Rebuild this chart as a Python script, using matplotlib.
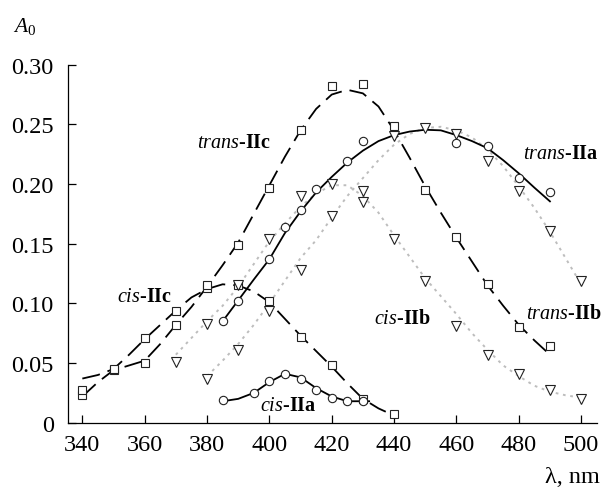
import matplotlib
matplotlib.use("Agg")
import matplotlib.pyplot as plt

# measured points (wavelength, nm / absorbance)
trans_IIa_x = [385, 390, 400, 405, 410, 415, 425, 430, 460, 470, 480, 490]
trans_IIa_y = [0.085, 0.102, 0.137, 0.164, 0.178, 0.196, 0.219, 0.236, 0.234, 0.232, 0.205, 0.193]

cis_IIa_x = [385, 395, 400, 405, 410, 415, 420, 425, 430]
cis_IIa_y = [0.019, 0.025, 0.035, 0.041, 0.037, 0.027, 0.021, 0.018, 0.018]

trans_IIb_x = [380, 390, 400, 410, 420, 430, 440, 450, 460, 470, 480, 490, 500]
trans_IIb_y = [0.037, 0.061, 0.094, 0.128, 0.173, 0.185, 0.240, 0.247, 0.242, 0.219, 0.194, 0.161, 0.119]

cis_IIb_x = [370, 380, 390, 400, 410, 420, 430, 440, 450, 460, 470, 480, 490, 500]
cis_IIb_y = [0.051, 0.083, 0.115, 0.154, 0.190, 0.200, 0.194, 0.154, 0.119, 0.081, 0.057, 0.041, 0.027, 0.020]

trans_IIc_x = [340, 350, 360, 370, 380, 390, 400, 410, 420, 430, 440, 450, 460, 470, 480, 490]
trans_IIc_y = [0.023, 0.044, 0.050, 0.082, 0.113, 0.149, 0.197, 0.245, 0.282, 0.284, 0.249, 0.195, 0.156, 0.116, 0.080, 0.064]

cis_IIc_x = [340, 350, 360, 370, 380, 390, 400, 410, 420, 430, 440]
cis_IIc_y = [0.027, 0.045, 0.071, 0.094, 0.115, 0.115, 0.102, 0.072, 0.048, 0.020, 0.007]

# fitted curves
fit_IIa_trans_x = list(range(385, 491, 5))
fit_IIa_trans_y = [0.085, 0.1025, 0.120, 0.137, 0.159, 0.177, 0.193, 0.206, 0.218, 0.228, 0.236,
                   0.241, 0.244, 0.2455, 0.245, 0.241, 0.236, 0.230, 0.220, 0.209, 0.197, 0.1855]

fit_IIa_cis_x = [385, 390, 395, 400, 405, 410, 415, 420, 425, 430, 432]
fit_IIa_cis_y = [0.018, 0.020, 0.025, 0.034, 0.041, 0.038, 0.029, 0.022, 0.018, 0.018, 0.018]

fit_IIb_trans_x = list(range(380, 501, 5))
fit_IIb_trans_y = [0.039, 0.052, 0.066, 0.082, 0.100, 0.119, 0.138, 0.153, 0.172, 0.190, 0.205, 0.220,
                   0.233, 0.242, 0.247, 0.248, 0.245, 0.239, 0.229, 0.215, 0.198, 0.180, 0.160, 0.138, 0.116]

fit_IIb_cis_x = list(range(370, 501, 5))
fit_IIb_cis_y = [0.057, 0.071, 0.085, 0.098, 0.114, 0.133, 0.152, 0.167, 0.181, 0.192, 0.199, 0.199,
                 0.190, 0.176, 0.157, 0.139, 0.121, 0.106, 0.091, 0.075, 0.061, 0.048, 0.039, 0.031,
                 0.026, 0.023, 0.021]

fit_IIc_trans_x = list(range(340, 491, 5))
fit_IIc_trans_y = [0.022, 0.034, 0.044, 0.048, 0.052, 0.066, 0.082, 0.097, 0.114, 0.132, 0.151, 0.175,
                   0.199, 0.223, 0.245, 0.263, 0.275, 0.279, 0.276, 0.265, 0.245, 0.222, 0.198, 0.176,
                   0.155, 0.135, 0.115, 0.098, 0.082, 0.069, 0.057]

fit_IIc_cis_x = list(range(340, 441, 5))
fit_IIc_cis_y = [0.037, 0.040, 0.045, 0.057, 0.070, 0.082, 0.094, 0.105, 0.112, 0.116, 0.115, 0.110,
                 0.101, 0.087, 0.073, 0.060, 0.047, 0.033, 0.020, 0.012, 0.006]

x_ticks = [340, 360, 380, 400, 420, 440, 460, 480, 500]
y_ticks = [0, 0.05, 0.10, 0.15, 0.20, 0.25, 0.30]
y_tick_labels = ["0", "0.05", "0.10", "0.15", "0.20", "0.25", "0.30"]

plt.rcParams["font.family"] = "Liberation Serif"
plt.rcParams["mathtext.fontset"] = "custom"
plt.rcParams["mathtext.rm"] = "Liberation Serif"
plt.rcParams["mathtext.it"] = "Liberation Serif:italic"
plt.rcParams["mathtext.bf"] = "Liberation Serif:bold"

fig = plt.figure(figsize=(6.05, 4.89), dpi=100)
ax = fig.add_axes([0.1129, 0.1335, 0.8734, 0.7321])

lw = 1.3
grey = "#bdbdbd"
mk = dict(mfc="white", mec="#222222", mew=0.8, ls="none", zorder=5)

# curves
ax.plot(fit_IIc_trans_x, fit_IIc_trans_y, color="black", lw=lw, dashes=(10, 4.5), zorder=3)
ax.plot(fit_IIc_cis_x, fit_IIc_cis_y, color="black", lw=lw, dashes=(10, 4.5), zorder=3)
ax.plot(fit_IIb_trans_x, fit_IIb_trans_y, color=grey, lw=1.4, dashes=(1.4, 2.4), zorder=2)
ax.plot(fit_IIb_cis_x, fit_IIb_cis_y, color=grey, lw=1.4, dashes=(1.4, 2.4), zorder=2)
ax.plot(fit_IIa_trans_x, fit_IIa_trans_y, color="black", lw=lw, zorder=4)
ax.plot(fit_IIa_cis_x, fit_IIa_cis_y, color="black", lw=lw, zorder=4)

# points
ax.plot(trans_IIc_x, trans_IIc_y, marker="s", ms=6.4, **mk)
ax.plot(cis_IIc_x, cis_IIc_y, marker="s", ms=6.4, **mk)
ax.plot(trans_IIb_x, trans_IIb_y, marker="v", ms=6.8, **mk)
ax.plot(cis_IIb_x, cis_IIb_y, marker="v", ms=6.8, **mk)
ax.plot(trans_IIa_x, trans_IIa_y, marker="o", ms=6, **mk)
ax.plot(cis_IIa_x, cis_IIa_y, marker="o", ms=6, **mk)

# curve labels
lab = dict(fontsize=14.5, va="baseline", ha="left", zorder=6)
ax.text(376.8, 0.2308, r"$\mathit{trans}$-$\mathbf{IIc}$", **lab)
ax.text(481.3, 0.2216, r"$\mathit{trans}$-$\mathbf{IIa}$", clip_on=False, **lab)
ax.text(482.4, 0.0878, r"$\mathit{trans}$-$\mathbf{IIb}$", clip_on=False, **lab)
ax.text(433.6, 0.0836, r"$\mathit{cis}$-$\mathbf{IIb}$", **lab)
ax.text(351.0, 0.1018, r"$\mathit{cis}$-$\mathbf{IIc}$", **lab)
ax.text(397.0, 0.0109, r"$\mathit{cis}$-$\mathbf{IIa}$", **lab)

ax.set_xlim(335.5, 505)
ax.set_ylim(0, 0.30)
ax.set_xticks(x_ticks)
ax.set_yticks(y_ticks)
ax.set_yticklabels(y_tick_labels)
ax.spines["top"].set_visible(False)
ax.spines["right"].set_visible(False)
for s in ("left", "bottom"):
    ax.spines[s].set_linewidth(0.9)
ax.tick_params(direction="in", length=6, width=0.9, labelsize=17.5)
ax.tick_params(axis="y", pad=10.5)
ax.tick_params(axis="x", pad=8)

fig.text(0.992, 0.0129, "λ, nm", fontsize=17.5, ha="right", va="baseline")
fig.text(0.021, 0.9346, r"$A_0$", fontsize=15.5, ha="left", va="baseline")

fig.savefig("out.png", dpi=100)
